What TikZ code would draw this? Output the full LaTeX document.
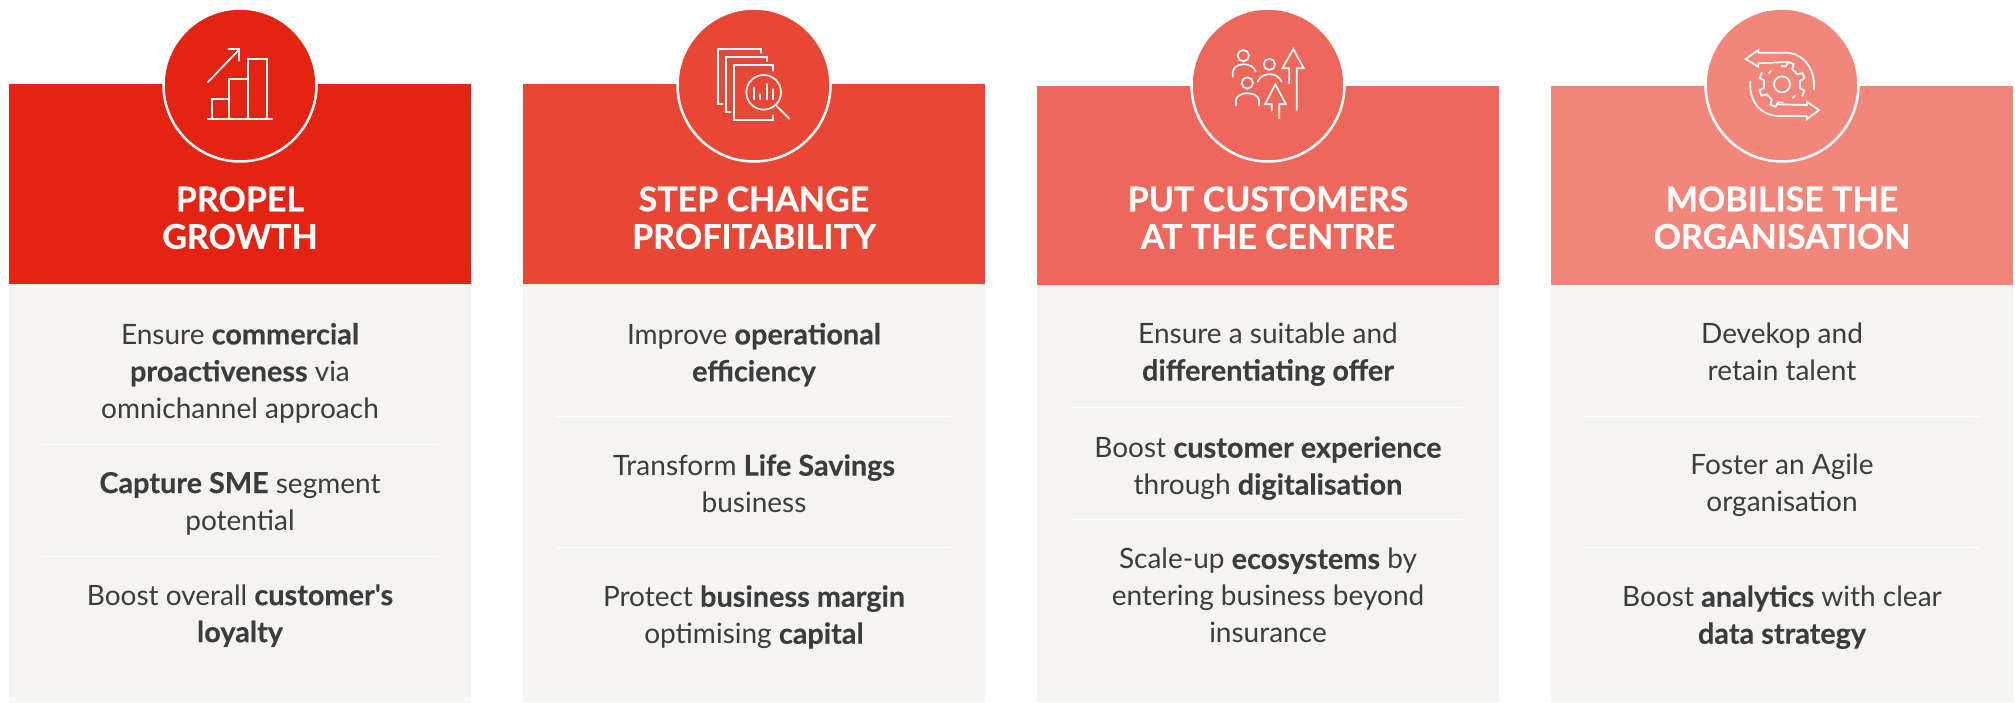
\documentclass[tikz,border=0pt]{standalone}
\usepackage{fontspec}
\setmainfont{Lato}[Ligatures=TeXOff,BoldFeatures={FakeBold=0.25,Scale=1.03}]
\newfontfamily\headfont{Lato}[BoldFeatures={FakeBold=0.5}]
\definecolor{ca}{HTML}{E42313}
\definecolor{cb}{HTML}{E94736}
\definecolor{cc}{HTML}{ED675B}
\definecolor{cd}{HTML}{F2867B}
\definecolor{bodyc}{HTML}{F5F4F1}
\definecolor{txt}{HTML}{3C3C3C}
\tikzset{
  bodybox/.style={fill=bodyc,draw=none},
  divider/.style={draw=white,line width=0.9pt},
  badge/.style={draw=white,line width=2.5pt},
  ico/.style={draw=white,line width=1.7pt,line cap=round,line join=miter,fill=none},
  head/.style={anchor=north,align=center,inner sep=0pt,text=white,font=\headfont\fontsize{34}{37.5}\selectfont\bfseries,execute at begin node={\strut}},
  item/.style={anchor=north,align=center,inner sep=0pt,text=txt,font=\fontsize{28}{37}\selectfont,execute at begin node={\strut}},
  zoomed/.style={x=0.33333pt,y=-0.33333pt}
}
\begin{document}
\begin{tikzpicture}[x=1pt,y=-1pt]
\useasboundingbox (0,0) rectangle (2015,703);
% column 1
\fill[bodybox] (9,284) rectangle (471,702);
\fill[ca] (9,84) rectangle (471,284);
\filldraw[fill=ca,badge] (240,85) circle (76.5);
\node[head] (h1) at (240,186.2) {PROPEL\\GROWTH};
\node[item] (a1) at (240,322.8) {Ensure \textbf{commercial}\\\textbf{proactiveness} via\\omnichannel approach};
\draw[divider] (42,444) -- (438,444);
\node[item] (a2) at (240,471.8) {\textbf{Capture SME} segment\\potential};
\draw[divider] (42,556) -- (438,556);
\node[item] (a3) at (240,584.1) {Boost overall \textbf{customer's}\\\textbf{loyalty}};
\begin{scope}[shift={(150,0)},zoomed]
\draw[ico] (173,358) -- (367,358);
\draw[ico] (185,358) -- (185,296) -- (238,296) -- (238,358);
\draw[ico] (238,296) -- (238,238) -- (293,238) -- (293,358);
\draw[ico] (293,238) -- (293,178) -- (350,178) -- (350,358);
\draw[ico] (173,247) -- (268,148);
\draw[ico] (235,148) -- (268,148) -- (268,182);
\end{scope}
% column 2
\fill[bodybox] (523,284) rectangle (985,702);
\fill[cb] (523,84) rectangle (985,284);
\filldraw[fill=cb,badge] (754,85) circle (76.5);
\node[head] (h2) at (754,186.2) {STEP CHANGE\\PROFITABILITY};
\node[item] (b1) at (754,322.8) {Improve \textbf{operational}\\\textbf{efficiency}};
\draw[divider] (556,416) -- (952,416);
\node[item] (b2) at (754,454.1) {Transform \textbf{Life Savings}\\business};
\draw[divider] (556,547.5) -- (952,547.5);
\node[item] (b3) at (754,585.1) {Protect \textbf{business margin}\\optimising \textbf{capital}};
\begin{scope}[shift={(660,0)},zoomed]
\draw[ico] (302,158) -- (302,147) -- (175,147) -- (175,313) -- (188,313);
\draw[ico] (322,183) -- (322,171) -- (198,171) -- (198,336) -- (212,336);
\draw[ico] (340,212) -- (340,195) -- (222,195) -- (222,360) -- (340,360) -- (340,345);
\draw[ico] (311,277) circle (52);
\draw[ico] (349,317) -- (388,356);
\draw[ico] (281,263) -- (281,298);
\draw[ico] (300,283) -- (300,298);
\draw[ico] (320,252) -- (320,298);
\draw[ico] (339,268) -- (339,298);
\end{scope}
% column 3
\fill[bodybox] (1037,285) rectangle (1499,702);
\fill[cc] (1037,86) rectangle (1499,285);
\filldraw[fill=cc,badge] (1268,85) circle (76.5);
\node[head] (h3) at (1268,186.2) {PUT CUSTOMERS\\AT THE CENTRE};
\node[item] (c1) at (1268,322.8) {Ensure a suitable and\\\textbf{differentiating offer}};
\draw[divider] (1070,407) -- (1466,407);
\node[item] (c2) at (1268,436.1) {Boost \textbf{customer experience}\\through \textbf{digitalisation}};
\draw[divider] (1070,519) -- (1466,519);
\node[item] (c3) at (1268,548.1) {Scale-up \textbf{ecosystems} by\\entering business beyond\\insurance};
\begin{scope}[shift={(1180,0)},zoomed]
\draw[ico] (190,167) circle (17);
\draw[ico] (158,230) -- (158,218) .. controls (160,185) and (220,185) .. (227,215);
\draw[ico] (268,193) circle (17);
\draw[ico] (233,245) .. controls (245,215) and (292,215) .. (305,245);
\draw[ico] (202,249) circle (17);
\draw[ico] (168,317) -- (168,300) .. controls (172,273) and (232,273) .. (237,300) -- (237,317);
\draw[ico] (350,330) -- (350,205) -- (371,205) -- (340,147) -- (307,205) -- (328,205) -- (328,250);
\draw[ico] (298,355) -- (298,313) -- (318,313) -- (286,253) -- (255,313) -- (275,313) -- (275,332);
\end{scope}
% column 4
\fill[bodybox] (1551,285) rectangle (2013,702);
\fill[cd] (1551,86) rectangle (2013,285);
\filldraw[fill=cd,badge] (1782,85) circle (76.5);
\node[head] (h4) at (1782,186.2) {MOBILISE THE\\ORGANISATION};
\node[item] (d1) at (1782,322.8) {Devekop and\\retain talent};
\draw[divider] (1584,416) -- (1980,416);
\node[item] (d2) at (1782,454.1) {Foster an Agile\\organisation};
\draw[divider] (1584,547.5) -- (1980,547.5);
\node[item] (d3) at (1782,585.1) {Boost \textbf{analytics} with clear\\\textbf{data strategy}};
\begin{scope}[shift={(1690,0)},zoomed]
\draw[ico] (276,253) circle (24);
\draw[ico] (372,268) .. controls (376,200) and (335,158) .. (285,158) -- (205,158) -- (205,150) -- (167,177) -- (205,200) -- (205,190) -- (290,186);
\draw[ico] (181,245) .. controls (177,310) and (217,348) .. (267,348) -- (350,348) -- (350,358) -- (387,330) -- (350,305) -- (350,315) -- (262,313);
\foreach \rot in {0,180}{
\begin{scope}[shift={(276,253)},rotate=\rot]
\draw[ico] (-92:55) -- (-78:55) -- (-74:70) -- (-60:70) -- (-56:55) -- (-33:55) -- (-29:70) -- (-15:70) -- (-11:55) -- (12:55) -- (16:70) -- (30:70);
\draw[ico] (40:52) -- (51:52);
\end{scope}}
\end{scope}
\end{tikzpicture}
\end{document}
